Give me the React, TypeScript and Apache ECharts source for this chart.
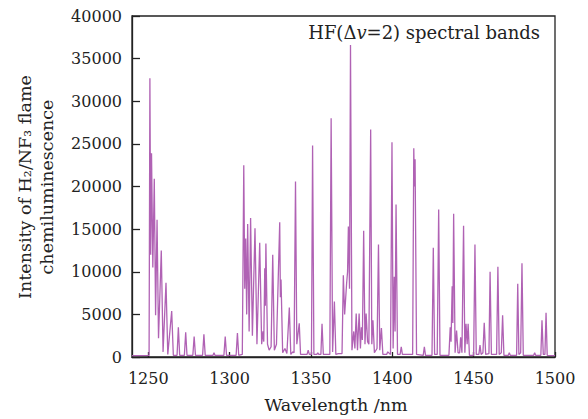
import React, { useEffect, useRef } from "react";
import * as echarts from "echarts";

// Spectrum points [wavelength nm, intensity]
const bandA: number[][] = [
  [1240, 150], [1250.5, 200], [1251.0, 32700], [1251.5, 12000], [1252.0, 23900], [1252.8, 10500],
  [1253.7, 20900], [1254.5, 4900], [1255.4, 16100], [1256.3, 2200], [1258.0, 12500], [1259.1, 600],
  [1260.9, 8700], [1262.0, 300], [1264.4, 5400], [1265.4, 200], [1267.7, 200], [1268.5, 3500],
  [1269.3, 200], [1272.2, 200], [1273.0, 2900], [1273.8, 200], [1277.4, 200], [1278.2, 2400],
  [1279.0, 200], [1283.4, 200], [1284.2, 2650], [1285.0, 200], [1289.8, 200], [1290.4, 500],
  [1291.0, 200], [1296.5, 200], [1297.3, 2400], [1298.1, 200], [1304.0, 200], [1304.8, 2800],
  [1305.6, 200],
];

const bandB: number[][] = [
  [1307.8, 300], [1308.7, 22500], [1309.3, 8000], [1309.9, 13900], [1310.5, 5000], [1311.1, 15600],
  [1312.0, 3000], [1312.9, 16300], [1314.0, 2500], [1315.6, 15100], [1316.8, 1500], [1318.5, 13400],
  [1319.7, 1500], [1320.5, 3000], [1321.0, 1800], [1321.6, 10400], [1321.95, 6000], [1322.3, 13300],
  [1323.3, 1500], [1324.3, 800], [1325.5, 1200], [1326.5, 12000], [1327.5, 800], [1328.8, 1500],
  [1330.8, 15800], [1331.2, 7000], [1331.6, 9100], [1332.6, 500], [1334.0, 1000], [1335.2, 400],
  [1336.7, 5800], [1337.6, 300], [1338.8, 600], [1339.6, 500], [1340.5, 20600], [1341.3, 1500],
  [1342.8, 3950], [1343.6, 300], [1347.6, 300], [1348.3, 800], [1349.0, 300], [1350.3, 300],
  [1351.0, 24800], [1351.8, 300], [1353.6, 300], [1354.2, 500], [1354.8, 300], [1356.1, 300],
  [1356.8, 3900], [1357.6, 300], [1361.6, 300], [1362.4, 28000], [1363.3, 600], [1364.4, 6500],
  [1365.3, 300], [1366.8, 400], [1369.1, 400], [1369.9, 9600], [1370.7, 5000], [1371.9, 8600],
  [1372.5, 10000], [1373.0, 15300], [1373.7, 8000], [1374.3, 36600], [1375.2, 800], [1376.3, 3000],
  [1377.0, 1000], [1377.8, 5100], [1378.6, 800], [1379.6, 5100], [1380.4, 1000], [1381.0, 3500],
  [1381.6, 2000], [1382.4, 14800], [1383.2, 1500], [1383.9, 5100], [1384.8, 1800], [1385.6, 1500],
  [1386.7, 26700], [1387.4, 1500], [1388.1, 4300], [1389.0, 500], [1390.6, 1000], [1391.5, 13200],
  [1392.3, 800], [1393.3, 3400], [1394.2, 300], [1396.5, 300], [1397.2, 600], [1398.9, 300],
  [1399.8, 25200], [1400.5, 1000], [1401.2, 9400], [1401.7, 3000], [1402.3, 17900], [1403.2, 300],
  [1404.8, 300], [1405.5, 1200], [1406.2, 300], [1412.5, 300], [1413.2, 24500], [1413.6, 20000],
  [1414.0, 23200], [1414.9, 300], [1419.0, 200], [1419.7, 1200], [1420.4, 200],
];

const bandC: number[][] = [
  [1424.4, 200], [1425.2, 12800], [1426.0, 300], [1427.6, 300], [1428.5, 17300], [1429.3, 200],
  [1434.8, 200], [1435.6, 3500], [1436.1, 1800], [1436.8, 8300], [1437.2, 4000], [1437.7, 16800],
  [1438.6, 500], [1439.5, 3100], [1440.4, 500], [1441.4, 500], [1442.0, 2300], [1442.8, 500],
  [1443.8, 15400], [1444.6, 500], [1445.3, 3900], [1446.0, 1500], [1446.6, 3900], [1447.4, 200],
  [1450.0, 200], [1450.8, 13200], [1451.6, 300], [1453.2, 300], [1453.9, 1400], [1454.6, 300],
  [1455.7, 500], [1456.5, 4000], [1457.4, 300], [1459.4, 400], [1460.1, 10000], [1460.9, 300],
  [1464.1, 300], [1464.9, 10600], [1465.7, 300], [1467.0, 500], [1467.8, 4900], [1468.6, 200],
  [1471.3, 200], [1471.9, 500], [1472.5, 200], [1476.4, 200], [1477.1, 8600], [1477.8, 300],
  [1478.9, 500], [1479.7, 11000], [1480.5, 200], [1486.9, 200], [1487.5, 500], [1488.1, 200],
  [1491.3, 200], [1492.0, 4300], [1492.8, 300], [1493.8, 300], [1494.5, 5200], [1495.2, 200],
  [1500, 150],
];

const xTicks = [1250, 1300, 1350, 1400, 1450, 1500];
const yTicks = [0, 5000, 10000, 15000, 20000, 25000, 30000, 35000, 40000];

const FONT = "DejaVu Serif";

export default function App() {
  const ref = useRef<HTMLDivElement>(null);
  useEffect(() => {
    if (!ref.current) return;
    const chart = echarts.init(ref.current, undefined, { renderer: "svg" });
    const data = [...bandA, ...bandB, ...bandC];
    chart.setOption({
      animation: false,
      backgroundColor: "#ffffff",
      grid: {
        left: 132,
        right: 33,
        top: 16,
        bottom: 62,
        show: true,
        borderColor: "#222",
        borderWidth: 1.3,
        backgroundColor: "transparent",
      },
      xAxis: {
        type: "value",
        min: 1240,
        max: 1500,
        splitLine: { show: false },
        axisLine: { show: true, lineStyle: { color: "#222", width: 1.3 } },
        axisTick: {
          show: true,
          inside: true,
          length: 5,
          customValues: xTicks,
          lineStyle: { color: "#222", width: 1.3 },
        },
        axisLabel: {
          customValues: xTicks,
          formatter: (v: number) => String(v),
          color: "#222",
          fontFamily: FONT,
          fontSize: 16,
          margin: 13,
        },
      },
      yAxis: {
        type: "value",
        min: 0,
        max: 40000,
        interval: 5000,
        splitLine: { show: false },
        axisLine: { show: true, lineStyle: { color: "#222", width: 1.3 } },
        axisTick: {
          show: true,
          inside: true,
          length: 8,
          customValues: yTicks,
          lineStyle: { color: "#222", width: 1.3 },
        },
        axisLabel: {
          formatter: (v: number) => String(v),
          color: "#222",
          fontFamily: FONT,
          fontSize: 16,
          margin: 10,
        },
      },
      graphic: [
        {
          type: "text",
          x: 336,
          y: 405,
          style: {
            text: "Wavelength /nm",
            fill: "#222",
            font: `17.5px "${FONT}"`,
            textAlign: "center",
            textVerticalAlign: "middle",
          },
        },
        {
          type: "text",
          x: 36,
          y: 187,
          rotation: Math.PI / 2,
          style: {
            text: "Intensity of H\u2082/NF\u2083 flame\nchemiluminescence",
            fill: "#222",
            font: `17.5px "${FONT}"`,
            lineHeight: 22,
            textAlign: "center",
            textVerticalAlign: "middle",
          },
        },
        {
          type: "text",
          x: 540,
          y: 32,
          style: {
            text: "HF(\u0394{i|v}=2) spectral bands",
            fill: "#222",
            font: `18px "${FONT}"`,
            textAlign: "right",
            textVerticalAlign: "middle",
            rich: {
              i: { fontStyle: "italic", fontFamily: FONT, fontSize: 18, fill: "#222" },
            },
          },
        },
      ],
      series: [
        {
          type: "line",
          data,
          showSymbol: false,
          symbol: "none",
          lineStyle: { color: "#b062b4", width: 1.3 },
          silent: true,
        },
      ],
    });
    return () => chart.dispose();
  }, []);
  return (
    <div
      ref={ref}
      style={{ position: "fixed", left: 0, top: 0, width: 588, height: 419 }}
    />
  );
}
